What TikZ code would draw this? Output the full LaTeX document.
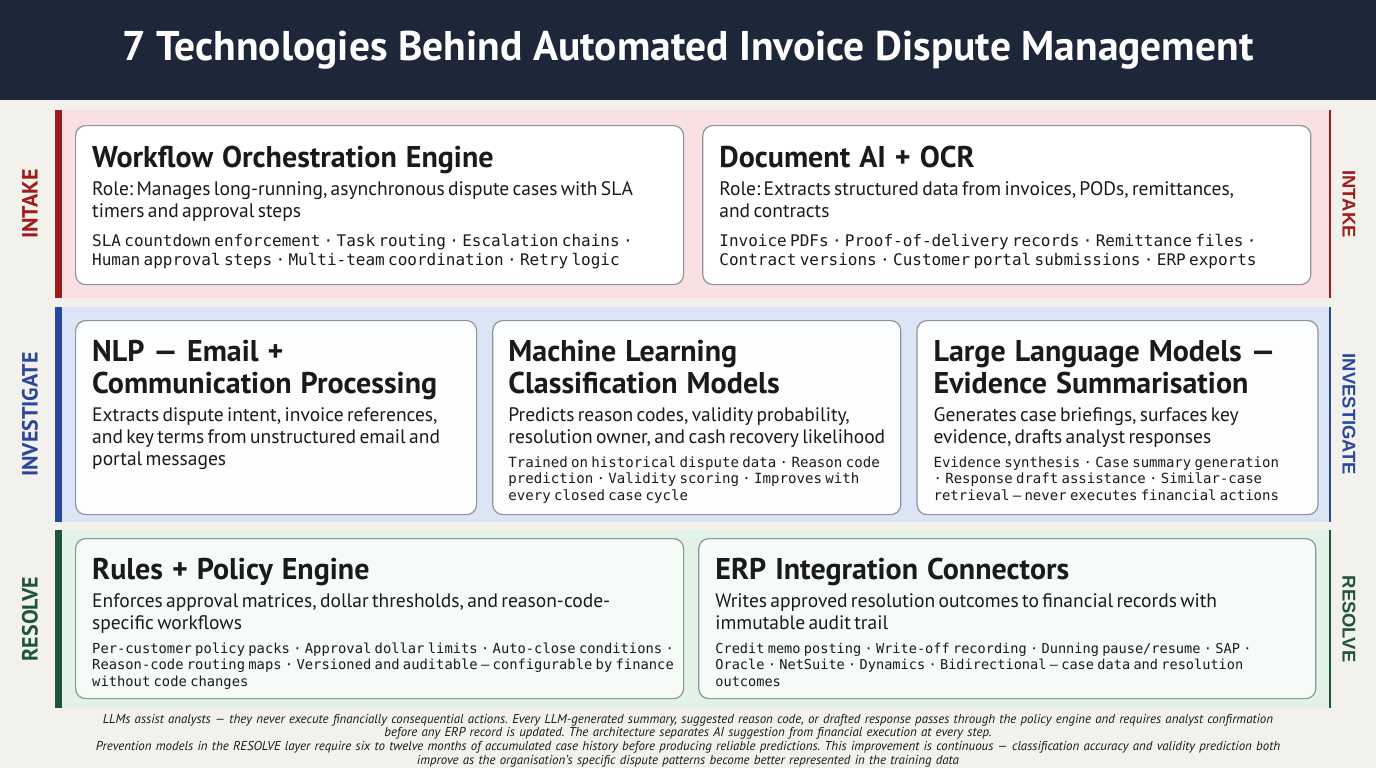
\documentclass[tikz,border=0pt]{standalone}
\usepackage{fontspec}
\setmainfont{PT Sans}
\setmonofont{DejaVu Sans Mono}
\newfontfamily\sidefont{Liberation Sans}
\usetikzlibrary{positioning}

\definecolor{navy}{HTML}{1E273A}
\definecolor{paper}{HTML}{F2F1EC}
\definecolor{ink}{HTML}{1A1A1A}
\definecolor{cardline}{HTML}{8E939C}
\definecolor{intk}{HTML}{9E1C1C}
\definecolor{intk-bg}{HTML}{F8E1E0}
\definecolor{invs}{HTML}{2B479C}
\definecolor{invs-bg}{HTML}{DCE5F6}
\definecolor{rslv}{HTML}{1F5535}
\definecolor{rslv-bg}{HTML}{E2F2E6}

\newcommand\hd{\fontsize{30}{32}\selectfont\bfseries\spaceskip=.3em plus .1em\relax}
\newcommand\bd{\fontsize{19.5}{22}\selectfont}
\newcommand\mo[2]{\ttfamily\fontsize{#1}{#2}\selectfont}
\setlength\parindent{0pt}
\frenchspacing

\begin{document}
\begin{tikzpicture}[x=1pt,y=-1pt]
	\tikzset{
		card/.style={draw=cardline,line width=1.2pt,rounded corners=10pt,fill=white,inner sep=0pt,anchor=north west},
		txt/.style={anchor=base west,inner sep=0pt,align=left,text width=640pt,text=ink},
		lbl/.style={font=\fontsize{22}{24}\selectfont\bfseries,inner sep=0pt},
		rlbl/.style={font=\sidefont\fontsize{18.4}{22}\selectfont\bfseries,inner sep=0pt},
		note/.style={anchor=base,inner sep=0pt,align=center,text width=1300pt,text=ink,font=\fontsize{12.9}{13.7}\selectfont\itshape}
	}
	\useasboundingbox (0,0) rectangle (1376,768);
	\fill[paper] (0,0) rectangle (1376,768);
	\fill[navy] (0,0) rectangle (1376,100);
	\node[text=white,font=\fontsize{41.5}{48}\selectfont\bfseries] (title) at (688,50)
		{7 Technologies Behind Automated Invoice Dispute Management};

	%% layer bands
	\foreach \nm/\lay/\ya/\yb/\col in {intake/INTAKE/110/298/intk,invest/INVESTIGATE/307/522/invs,resolve/RESOLVE/530/708/rslv} {
		\fill[\col-bg] (62,\ya) rectangle (1330,\yb);
		\fill[\col] (55,\ya) rectangle (62,\yb);
		\draw[\col,line width=1.6pt] (1330,\ya) -- (1330,\yb);
		\node[lbl,text=\col,rotate=90] (\nm-l) at (30,{(\ya+\yb)/2}) {\lay};
		\node[rlbl,text=\col,rotate=-90] (\nm-r) at (1349,{(\ya+\yb)/2}) {\lay};
	}

	%% INTAKE
	\node[card,minimum width=608pt,minimum height=159pt] (wf) at (75,125) {};
	\node[card,minimum width=608pt,minimum height=159pt,right=18pt of wf] (doc) {};
	\node[txt] (wf-t) at ([shift={(17,42)}]wf.north west)
		{{\hd Workflow Orchestration Engine\par}\vspace{6pt}
		{\bd Role: Manages long-running, asynchronous dispute cases with SLA\\timers and approval steps\par}\vspace{10pt}
		{\mo{16}{19}SLA countdown enforcement · Task routing · Escalation chains ·\\Human approval steps · Multi-team coordination · Retry logic\par}};
	\node[txt] (doc-t) at ([shift={(17,42)}]doc.north west)
		{{\hd Document AI + OCR\par}\vspace{6pt}
		{\bd Role: Extracts structured data from invoices, PODs, remittances,\\and contracts\par}\vspace{10pt}
		{\mo{16}{19}Invoice PDFs · Proof-of-delivery records · Remittance files ·\\Contract versions · Customer portal submissions · ERP exports\par}};

	%% INVESTIGATE
	\node[card,fill=white!80!invs-bg!40,minimum width=401pt,minimum height=194pt] (nlp) at (75,320) {};
	\node[card,fill=white!80!invs-bg!40,minimum width=408pt,minimum height=194pt,right=15pt of nlp] (ml) {};
	\node[card,fill=white!80!invs-bg!40,minimum width=401pt,minimum height=194pt,right=15pt of ml] (llm) {};
	\node[txt] (nlp-t) at ([shift={(17,41)}]nlp.north west)
		{{\hd NLP — Email +\\Communication Processing\par}\vspace{6pt}
		{\bd Extracts dispute intent, invoice references,\\and key terms from unstructured email and\\portal messages\par}};
	\node[txt] (ml-t) at ([shift={(16,41)}]ml.north west)
		{{\hd Machine Learning\\Classification Models\par}\vspace{6pt}
		{\bd Predicts reason codes, validity probability,\\resolution owner, and cash recovery likelihood\par}\vspace{7.5pt}
		{\mo{14.1}{16.5}Trained on historical dispute data · Reason code\\prediction · Validity scoring · Improves with\\every closed case cycle\par}};
	\node[txt] (llm-t) at ([shift={(17,41)}]llm.north west)
		{{\hd Large Language Models —\\Evidence Summarisation\par}\vspace{6pt}
		{\bd Generates case briefings, surfaces key\\evidence, drafts analyst responses\par}\vspace{7.5pt}
		{\mo{14}{16.5}Evidence synthesis · Case summary generation\\· Response draft assistance · Similar-case\\retrieval — never executes financial actions\par}};

	%% RESOLVE
	\node[card,fill=white!70!rslv-bg,minimum width=608pt,minimum height=160pt] (rules) at (75,538) {};
	\node[card,fill=white!70!rslv-bg,minimum width=617pt,minimum height=160pt,right=14pt of rules] (erp) {};
	\node[txt] (rules-t) at ([shift={(17,41)}]rules.north west)
		{{\hd Rules + Policy Engine\par}\vspace{6pt}
		{\bd Enforces approval matrices, dollar thresholds, and reason-code-\\specific workflows\par}\vspace{7.5pt}
		{\mo{13.8}{16.5}Per-customer policy packs · Approval dollar limits · Auto-close conditions ·\\Reason-code routing maps · Versioned and auditable — configurable by finance\\without code changes\par}};
	\node[txt] (erp-t) at ([shift={(17,41)}]erp.north west)
		{{\hd ERP Integration Connectors\par}\vspace{6pt}
		{\bd Writes approved resolution outcomes to financial records with\\immutable audit trail\par}\vspace{7.5pt}
		{\mo{13.6}{16.5}Credit memo posting · Write-off recording · Dunning pause/resume · SAP ·\\Oracle · NetSuite · Dynamics · Bidirectional — case data and resolution\\outcomes\par}};

	%% footnote
	\node[note] (fn) at (688,723)
		{LLMs assist analysts — they never execute financially consequential actions. Every LLM-generated summary, suggested reason code, or drafted response passes through the policy engine and requires analyst confirmation\\before any ERP record is updated. The architecture separates AI suggestion from financial execution at every step.\\Prevention models in the RESOLVE layer require six to twelve months of accumulated case history before producing reliable predictions. This improvement is continuous — classification accuracy and validity prediction both\\improve as the organisation's specific dispute patterns become better represented in the training data};
\end{tikzpicture}
\end{document}
